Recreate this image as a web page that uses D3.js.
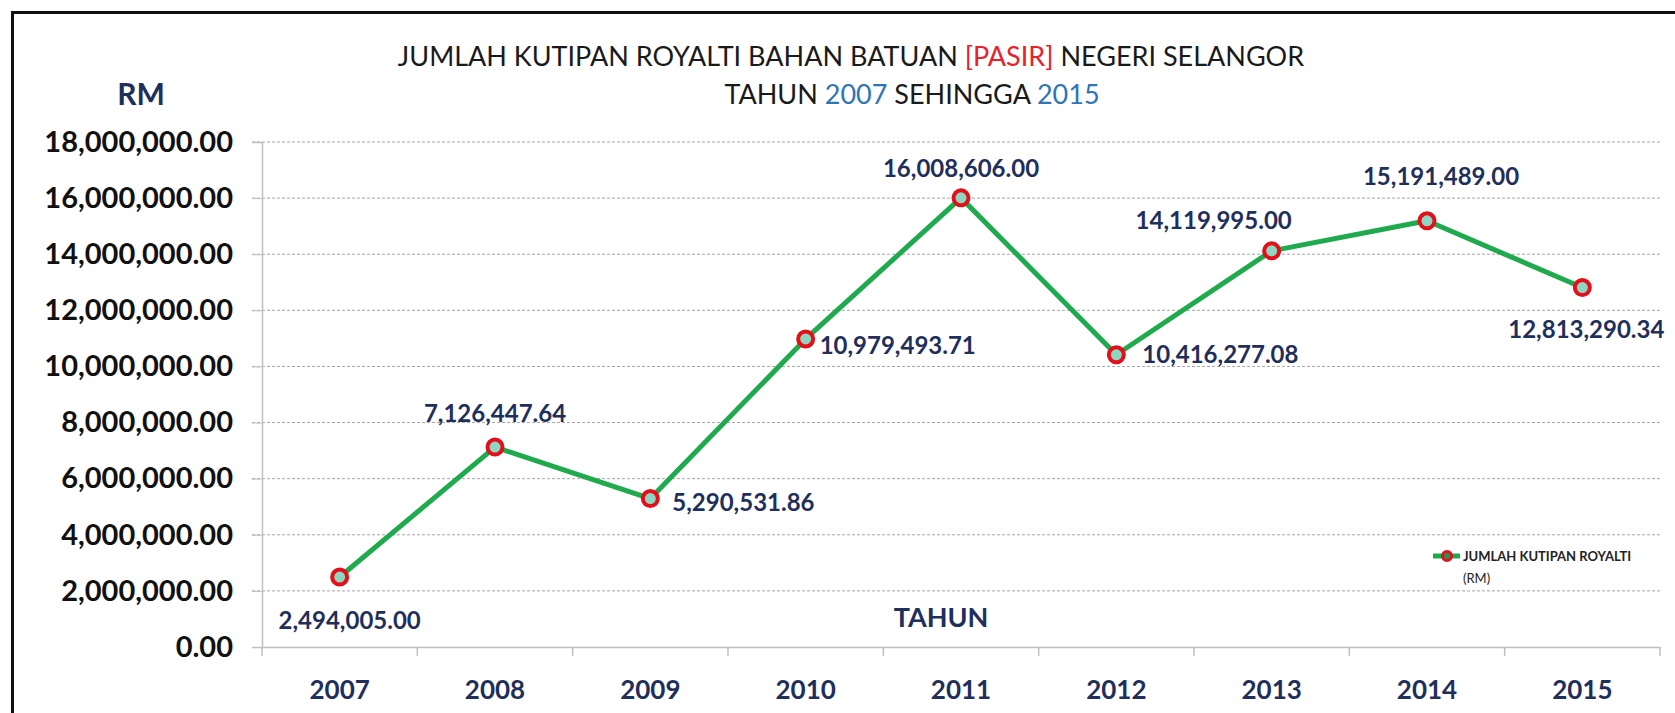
<!DOCTYPE html>
<html>
<head>
<meta charset="utf-8">
<script src="https://cdn.jsdelivr.net/npm/d3@7"></script>
<style>
  html, body { margin: 0; padding: 0; background: #fff; }
  #chart { width: 1675px; height: 713px; }
  text { font-family: Lato, "Open Sans", sans-serif; }
</style>
</head>
<body>
<div id="chart"></div>
<script>
// Royalti pasir Selangor, 2007 - 2015
const years = ["2007", "2008", "2009", "2010", "2011", "2012", "2013", "2014", "2015"];
const royalti = [2494005.00, 7126447.64, 5290531.86, 10979493.71, 16008606.00,
                 10416277.08, 14119995.00, 15191489.00, 12813290.34];
const yTicks = [0, 2e6, 4e6, 6e6, 8e6, 10e6, 12e6, 14e6, 16e6, 18e6];

// where each value label sits relative to its point
const labelPos = [
  {dx: 10, dy: 43, anchor: "middle"},
  {dx: 0, dy: -34, anchor: "middle"},
  {dx: 22, dy: 4, anchor: "start"},
  {dx: 14, dy: 6, anchor: "start"},
  {dx: 0, dy: -30, anchor: "middle"},
  {dx: 26, dy: 0, anchor: "start"},
  {dx: -58, dy: -30, anchor: "middle"},
  {dx: 14, dy: -44, anchor: "middle"},
  {dx: 4, dy: 42, anchor: "middle"}
];

const W = 1675, H = 713;
const navy = "#1f2f5c";
const svg = d3.select("#chart").append("svg").attr("width", W).attr("height", H);

// frame
svg.append("rect").attr("x", 12.5).attr("y", 12.5).attr("width", 1700).attr("height", 800)
  .attr("fill", "none").attr("stroke", "#111").attr("stroke-width", 3);

const x = d3.scaleBand().domain(years).range([262, 1660]).padding(0);
const y = d3.scaleLinear().domain([0, 18e6]).range([647, 142]);
const fmt = d3.format(",.2f");

// gridlines
svg.append("g").selectAll("line").data(yTicks.filter(d => d > 0)).enter().append("line")
  .attr("x1", 252).attr("x2", 1662)
  .attr("y1", d => y(d)).attr("y2", d => y(d))
  .attr("stroke", "#a6a6a6").attr("stroke-width", 1).attr("stroke-dasharray", "3,2");

// y axis
const yAxis = svg.append("g").attr("transform", "translate(262,0)")
  .call(d3.axisLeft(y).tickValues(yTicks).tickSize(10).tickFormat(fmt));
yAxis.select(".domain").attr("stroke", "#bfbfbf").attr("stroke-width", 1.5);
yAxis.selectAll(".tick line").attr("stroke", "#bfbfbf");
yAxis.selectAll(".tick text").attr("x", -29).attr("fill", "#111")
  .attr("font-size", 29).attr("font-weight", 700);

// x axis
const xAxis = svg.append("g").attr("transform", "translate(0,647)")
  .call(d3.axisBottom(x).tickSize(0).tickSizeOuter(0));
xAxis.select(".domain").attr("stroke", "#bfbfbf").attr("stroke-width", 1.5);
xAxis.selectAll(".tick text").attr("y", 52).attr("dy", 0).attr("fill", navy)
  .attr("font-size", 26).attr("font-weight", 700);
// ticks between categories
const bounds = years.map(d => x(d)).concat([x.range()[1]]);
xAxis.selectAll(".sep").data(bounds).enter().append("line").attr("class", "sep")
  .attr("x1", d => d).attr("x2", d => d).attr("y1", 0).attr("y2", 9)
  .attr("stroke", "#bfbfbf").attr("stroke-width", 1.5);

// line
const cx = d => x(d) + x.bandwidth() / 2;
const line = d3.line().x((d, i) => cx(years[i])).y(d => y(d));
svg.append("path").datum(royalti).attr("d", line)
  .attr("fill", "none").attr("stroke", "#1faa4e").attr("stroke-width", 5)
  .attr("stroke-linejoin", "round");

svg.append("g").selectAll("circle").data(royalti).enter().append("circle")
  .attr("cx", (d, i) => cx(years[i])).attr("cy", d => y(d)).attr("r", 7.5)
  .attr("fill", "#8fd6c0").attr("stroke", "#e3101c").attr("stroke-width", 4);

// value labels
svg.append("g").selectAll("text").data(royalti).enter().append("text")
  .attr("x", (d, i) => cx(years[i]) + labelPos[i].dx)
  .attr("y", (d, i) => y(d) + labelPos[i].dy)
  .attr("dy", "0.36em")
  .attr("text-anchor", (d, i) => labelPos[i].anchor)
  .attr("fill", navy).attr("font-size", 24).attr("font-weight", 700)
  .text(d => fmt(d));

// titles
const t1 = svg.append("text").attr("x", 851).attr("y", 66).attr("text-anchor", "middle")
  .attr("font-size", 27).attr("fill", "#1a1a1a");
t1.append("tspan").text("JUMLAH KUTIPAN ROYALTI BAHAN BATUAN ");
t1.append("tspan").attr("fill", "#e8212b").text("[PASIR]");
t1.append("tspan").text(" NEGERI SELANGOR");

const t2 = svg.append("text").attr("x", 912).attr("y", 104).attr("text-anchor", "middle")
  .attr("font-size", 27).attr("fill", "#1a1a1a");
t2.append("tspan").text("TAHUN ");
t2.append("tspan").attr("fill", "#2e75b6").text("2007");
t2.append("tspan").text(" SEHINGGA ");
t2.append("tspan").attr("fill", "#2e75b6").text("2015");

svg.append("text").attr("x", 141).attr("y", 105).attr("text-anchor", "middle")
  .attr("font-size", 30).attr("font-weight", 700).attr("fill", navy).text("RM");

svg.append("text").attr("x", 941).attr("y", 627).attr("text-anchor", "middle")
  .attr("font-size", 27).attr("font-weight", 700).attr("fill", navy).text("TAHUN");

// legend
const lg = svg.append("g").attr("transform", "translate(1447,556)");
lg.append("line").attr("x1", -14).attr("x2", 13).attr("stroke", "#1faa4e").attr("stroke-width", 5);
lg.append("circle").attr("r", 4.5).attr("fill", "#2a8f55").attr("stroke", "#e3101c").attr("stroke-width", 3);
lg.append("text").attr("x", 16).attr("y", 5).attr("font-size", 13).attr("font-weight", 700)
  .attr("fill", "#222").text("JUMLAH KUTIPAN ROYALTI");
lg.append("text").attr("x", 16).attr("y", 27).attr("font-size", 13)
  .attr("fill", "#222").text("(RM)");
</script>
</body>
</html>
